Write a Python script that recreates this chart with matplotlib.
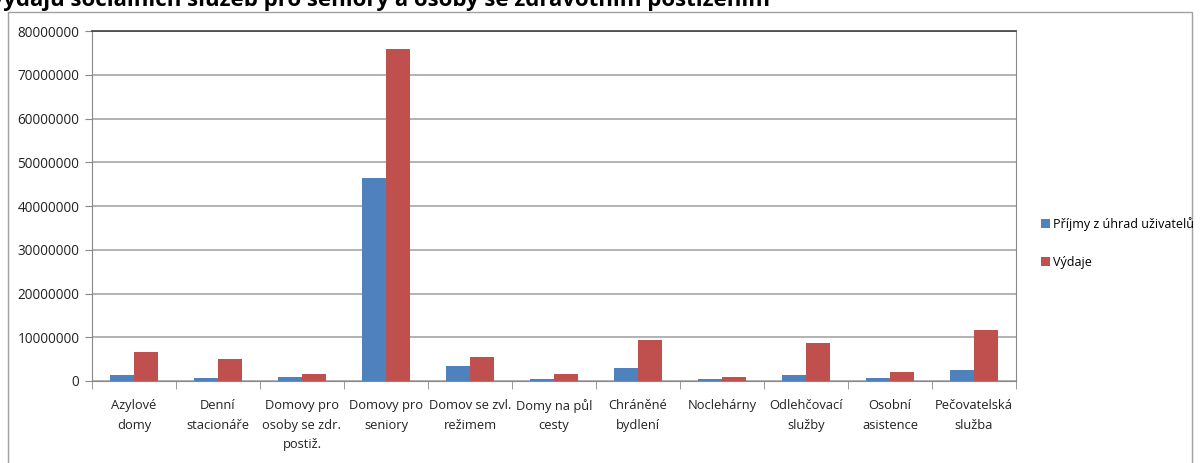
import matplotlib
matplotlib.use("Agg")
import matplotlib.pyplot as plt
from matplotlib.patches import Rectangle
import numpy as np

categories = ["Azylové\ndomy", "Denní\nstacionáře", "Domovy pro\nosoby se zdr.\npostiž.",
              "Domovy pro\nseniory", "Domov se zvl.\nrežimem", "Domy na půl\ncesty",
              "Chráněné\nbydlení", "Noclehárny", "Odlehčovací\nslužby", "Osobní\nasistence",
              "Pečovatelská\nslužba"]
prijmy = [1300000, 700000, 1000000, 46400000, 3500000, 400000, 2900000, 400000, 1300000, 700000, 2500000]
vydaje = [6600000, 5000000, 1600000, 75800000, 5400000, 1600000, 9400000, 1000000, 8800000, 2000000, 11600000]
series_names = ["Příjmy z úhrad uživatelů", "Výdaje"]
yticks = [0, 10000000, 20000000, 30000000, 40000000, 50000000, 60000000, 70000000, 80000000]
title = "Přehled příjmů a výdajů sociálních služeb pro seniory a osoby se zdravotním postižením"

plt.rcParams['font.family'] = ['Open Sans', 'DejaVu Sans']

W, H = 1200, 463
fig = plt.figure(figsize=(W/100, H/100), dpi=100)

# outer chart frame
fig.patches.append(Rectangle((8/W, -0.1), (1192-8)/W, 1 - 12/H + 0.1, transform=fig.transFigure,
                             fill=False, edgecolor="#a0a0a0", linewidth=1.0))
# cut-off title (as in the reference, only its lower part is visible)
fig.text(770/W, 1 - 6/H, title, ha="right", va="baseline", fontsize=16, fontweight="bold", color="black")

ax = fig.add_axes([92/W, 1 - 381/H, (1016-92)/W, (381-31)/H])
x = np.arange(len(categories))
bw = 0.286
ax.bar(x - bw/2, prijmy, bw, color="#4f81bd", label=series_names[0], zorder=3)
ax.bar(x + bw/2, vydaje, bw, color="#c0504d", label=series_names[1], zorder=3)

ax.set_xlim(-0.5, len(categories) - 0.5)
ax.set_ylim(0, 80000000)
ax.set_yticks(yticks)
ax.set_yticklabels([str(v) for v in yticks], fontsize=9.8, color="#222222")
ax.yaxis.grid(True, color="#a6a6a6", linewidth=1.2, zorder=0)
ax.tick_params(axis="y", length=5, color="#888888", pad=4)

ax.set_xticks(x)
ax.set_xticklabels(categories, fontsize=9.3, linespacing=1.65, color="#222222", va="top")
ax.tick_params(axis="x", length=0, pad=13)
ax.set_xticks(np.arange(-0.5, len(categories)), minor=True)
ax.tick_params(axis="x", which="minor", length=6, color="#888888")

for s in ["left", "bottom", "right"]:
    ax.spines[s].set_color("#888888")
ax.spines["top"].set_color("#404040")
ax.spines["top"].set_linewidth(1.2)

handles, labels = ax.get_legend_handles_labels()
leg = fig.legend(handles, labels, loc="upper left", bbox_to_anchor=(1036/W, 1 - 212/H),
                 frameon=False, fontsize=9.0, handlelength=0.75, handleheight=0.75,
                 handletextpad=0.2, labelspacing=2.0, borderaxespad=0)

fig.savefig("out.png", dpi=100)
